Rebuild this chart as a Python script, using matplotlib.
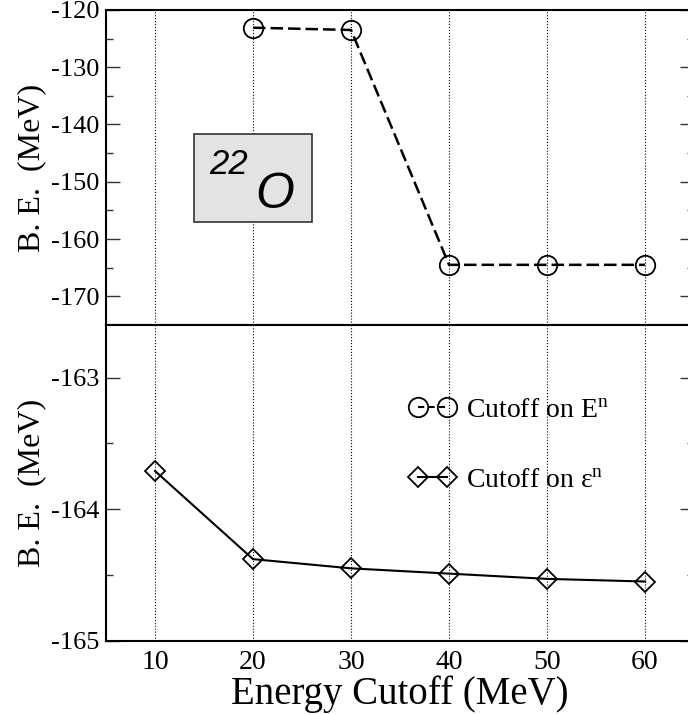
import matplotlib
matplotlib.use('Agg')
import matplotlib.pyplot as plt
from matplotlib.lines import Line2D
from matplotlib.patches import Rectangle
from matplotlib.ticker import MultipleLocator

# data
cutoff_e = [20, 30, 40, 50, 60]
be_e = [-123.1, -123.5, -164.5, -164.5, -164.5]
cutoff_eps = [10, 20, 30, 40, 50, 60]
be_eps = [-163.71, -164.38, -164.45, -164.49, -164.53, -164.55]
xticks = [10, 20, 30, 40, 50, 60]

plt.rcParams['font.family'] = ['Liberation Serif', 'DejaVu Serif']
plt.rcParams['mathtext.fontset'] = 'custom'
plt.rcParams['mathtext.rm'] = 'Liberation Serif'
plt.rcParams['mathtext.it'] = 'Liberation Serif:italic'
plt.rcParams['axes.unicode_minus'] = False

fig = plt.figure(figsize=(6.88, 7.15), dpi=100)
ax1 = fig.add_axes([0.1541, 0.5455, 0.8547, 0.4406])
ax2 = fig.add_axes([0.1541, 0.1039, 0.8547, 0.4416])

for ax in (ax1, ax2):
    ax.set_xlim(5, 65)
    ax.set_xticks(xticks)
    ax.xaxis.grid(True, linestyle=':', color='k', linewidth=0.8)
    ax.tick_params(axis='y', which='both', direction='in', left=True, right=True,
                   labelsize=19, pad=5, color='#333333')
    ax.tick_params(axis='y', which='major', length=10, width=1)
    ax.tick_params(axis='y', which='minor', length=5, width=1)
    ax.tick_params(axis='x', length=0, labelsize=20, pad=7)
    for s in ax.spines.values():
        s.set_linewidth(1.5)

# top panel
ax1.plot(cutoff_e, be_e, color='k', linestyle='--', dashes=(5, 2), linewidth=1.8,
         marker='o', markersize=14, markerfacecolor='none', markeredgewidth=1.3)
ax1.set_ylim(-175, -120)
ax1.yaxis.set_major_locator(MultipleLocator(10))
ax1.yaxis.set_minor_locator(MultipleLocator(5))
ax1.tick_params(axis='x', labelbottom=False)
ax1.set_ylabel('B. E.  (MeV)', fontsize=23, labelpad=3)

box = Rectangle((0.1497, 0.328), 0.2003, 0.279, transform=ax1.transAxes,
                facecolor='#e3e3e3', edgecolor='#333333', linewidth=1.2, zorder=3)
ax1.add_patch(box)
ax1.text(0.175, 0.48, '22', transform=ax1.transAxes, fontsize=25, style='italic',
         family='Liberation Sans', va='baseline', zorder=4)
ax1.text(0.253, 0.371, 'O', transform=ax1.transAxes, fontsize=36, style='italic',
         family='Liberation Sans', va='baseline', zorder=4)

# bottom panel
ax2.plot(cutoff_eps, be_eps, color='k', linewidth=1.5,
         marker='D', markersize=10, markerfacecolor='none', markeredgewidth=1.3)
ax2.set_ylim(-165, -162.6)
ax2.yaxis.set_major_locator(MultipleLocator(1))
ax2.yaxis.set_minor_locator(MultipleLocator(0.5))
ax2.set_ylabel('B. E.  (MeV)', fontsize=23, labelpad=3)
ax2.set_xlabel('Energy Cutoff (MeV)', fontsize=28, labelpad=0)

h_e = Line2D([], [], color='k', linestyle='--', dashes=(3, 2), linewidth=1.5, marker='o',
             markersize=14, markerfacecolor='none', markeredgewidth=1.3)
h_eps = Line2D([], [], color='k', linewidth=1.5, marker='D',
               markersize=10, markerfacecolor='none', markeredgewidth=1.3)
ax2.legend([h_e, h_eps], ['Cutoff on E$^{\\mathrm{n}}$', 'Cutoff on ε$^{\\mathrm{n}}$'],
           loc='upper left', bbox_to_anchor=(0.516, 0.771), frameon=False, fontsize=20,
           numpoints=2, handlelength=1.64, handletextpad=0.38, labelspacing=1.62,
           borderpad=0, borderaxespad=0)

fig.savefig('out.png', dpi=100)
